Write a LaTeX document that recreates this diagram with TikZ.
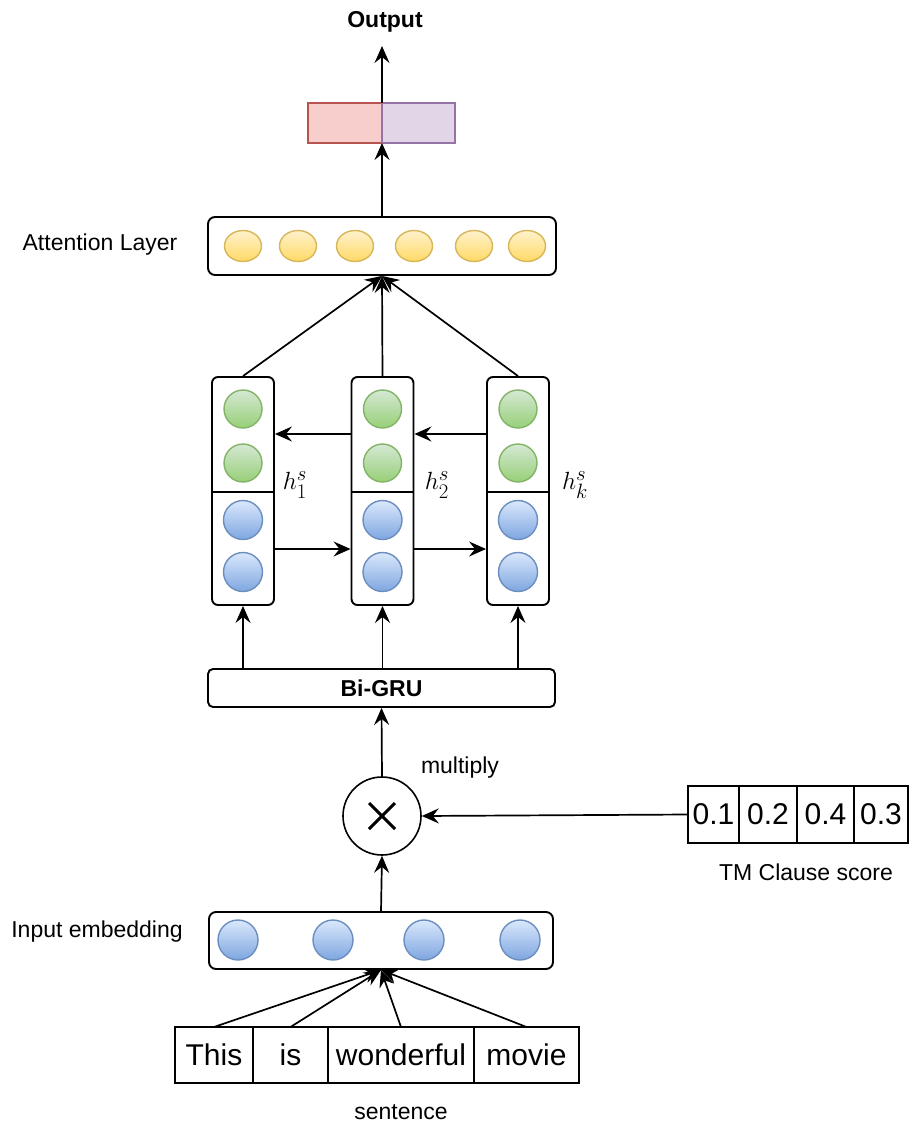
\documentclass[tikz,border=0pt]{standalone}
\usepackage{fontspec}
\setmainfont{Liberation Sans}
\usepackage{amsmath}
\usepackage{xcolor}
\usepackage{tikz}
\usetikzlibrary{arrows.meta,shapes.geometric,positioning}

\definecolor{yelfill}{HTML}{FFF2CC}
\definecolor{yelfilltwo}{HTML}{FFD966}
\definecolor{yeldraw}{HTML}{D6B656}
\definecolor{grnfill}{HTML}{D5E8D4}
\definecolor{grnfilltwo}{HTML}{97D077}
\definecolor{grndraw}{HTML}{82B366}
\definecolor{blufill}{HTML}{DAE8FC}
\definecolor{blufilltwo}{HTML}{7EA6E0}
\definecolor{bludraw}{HTML}{6C8EBF}
\definecolor{redfill}{HTML}{F8CECC}
\definecolor{reddraw}{HTML}{B85450}
\definecolor{purfill}{HTML}{E1D5E7}
\definecolor{purdraw}{HTML}{9673A6}

\begin{document}
\begin{tikzpicture}[x=1pt,y=-1pt,
            arr/.style={-{Stealth[length=17pt,width=15pt,inset=6pt]},line width=1.7pt},
            layerbox/.style={draw,rounded corners=7pt,line width=1.9pt},
            yel/.style={ellipse,draw=yeldraw,line width=1.4pt,top color=yelfill,bottom color=yelfilltwo,minimum width=37,minimum height=31,inner sep=0},
            grn/.style={circle,draw=grndraw,line width=1.4pt,top color=grnfill,bottom color=grnfilltwo,minimum size=38,inner sep=0},
            blu/.style={circle,draw=bludraw,line width=1.4pt,top color=blufill,bottom color=blufilltwo,minimum size=39,inner sep=0},
            lbl/.style={font=\fontsize{23}{27}\selectfont},
            big/.style={draw,line width=1.6pt,minimum height=57,inner sep=0,outer sep=0,font=\fontsize{30}{34}\selectfont}]
            \useasboundingbox (0,0) rectangle (911,1127);

            \node[font=\bfseries\fontsize{23}{27}\selectfont] (out) at (385,22) {Output};
            \coordinate (outtip) at (382,46);
            \node[draw=reddraw,fill=redfill,line width=1.6pt,minimum width=74,minimum height=40,inner sep=0,outer sep=0] (pa) at (345,123) {};
            \node[draw=purdraw,fill=purfill,line width=1.6pt,minimum width=73,minimum height=40,inner sep=0,outer sep=0,anchor=west] (pb) at (pa.east) {};
            \draw[arr] (pa.north east) -- (outtip);

            \node[lbl] at (100,245) {Attention Layer};
            \node[layerbox,minimum width=348,minimum height=58] (att) at (382,246) {};
            \foreach \x [count=\i] in {243,298,355,414,474,527}
                \node[yel] (a\i) at (\x,246) {};
            \draw[arr] (att.north) -- (pa.south east);

            \foreach \x/\n in {243/1,382.5/2,518/3} {
                \node[layerbox,rounded corners=6pt,minimum width=62,minimum height=228] (c\n) at (\x,491) {};
                \draw[line width=1.6pt] (c\n.west |- 0,492) -- (c\n.east |- 0,492);
                \node[grn] (g\n a) at (\x,409) {};
                \node[grn] (g\n b) at (\x,463) {};
                \node[blu] (b\n a) at (\x,520) {};
                \node[blu] (b\n b) at (\x,572) {};
                \draw[arr] (c\n.north) -- (att.south);
            }
            \node[font=\fontsize{31}{35}\selectfont] (h1) at (295,485) {$h^s_1$};
            \node[font=\fontsize{31}{35}\selectfont] (h2) at (437,485) {$h^s_2$};
            \node[font=\fontsize{31}{35}\selectfont] (hk) at (575,485) {$h^s_k$};

            \draw[arr] (c3.west |- 0,434) -- (c2.east |- 0,434);
            \draw[arr] (c2.west |- 0,434) -- (c1.east |- 0,434);
            \draw[arr] (c1.east |- 0,549) -- (c2.west |- 0,549);
            \draw[arr] (c2.east |- 0,549) -- (c3.west |- 0,549);

            \node[layerbox,rounded corners=5pt,minimum width=347,minimum height=38,font=\bfseries\fontsize{23}{27}\selectfont] (gru) at (381.5,688) {Bi-GRU};
            \foreach \n in {1,2,3}
                \draw[arr] (gru.north -| c\n) -- (c\n.south);

            \node[circle,draw,line width=1.6pt,minimum size=78,inner sep=0] (mul) at (382,816) {};
            \draw[line width=3pt] ([shift={(-13,-13)}]mul.center) -- ([shift={(13,13)}]mul.center);
            \draw[line width=3pt] ([shift={(-13,13)}]mul.center) -- ([shift={(13,-13)}]mul.center);
            \node[lbl] at (460,768) {multiply};
            \draw[arr] (mul.north) -- (gru.south);

            \node[big,minimum width=51] (s1) at (713.5,814.5) {0.1};
            \node[big,minimum width=58,anchor=west] (s2) at (s1.east) {0.2};
            \node[big,minimum width=57,anchor=west] (s3) at (s2.east) {0.4};
            \node[big,minimum width=54,anchor=west] (s4) at (s3.east) {0.3};
            \node[lbl] at (806,872) {TM Clause score};
            \draw[arr] (s1.west) -- (mul.east);

            \node[lbl] at (97,932) {Input embedding};
            \node[layerbox,minimum width=344,minimum height=57] (emb) at (381,940.5) {};
            \foreach \x [count=\i] in {238,333,424,520}
                \node[blu,minimum size=40] (e\i) at (\x,940) {};
            \draw[arr] (emb.north) -- (mul.south);

            \node[big,minimum width=78,minimum height=56] (w1) at (214,1055) {This};
            \node[big,minimum width=75,minimum height=56,anchor=west] (w2) at (w1.east) {is};
            \node[big,minimum width=146,minimum height=56,anchor=west] (w3) at (w2.east) {wonderful};
            \node[big,minimum width=105,minimum height=56,anchor=west] (w4) at (w3.east) {movie};
            \node[lbl] at (401,1112) {sentence};
            \foreach \n in {1,2,3,4}
                \draw[arr] (w\n.north) -- (emb.south);
        \end{tikzpicture}
\end{document}
